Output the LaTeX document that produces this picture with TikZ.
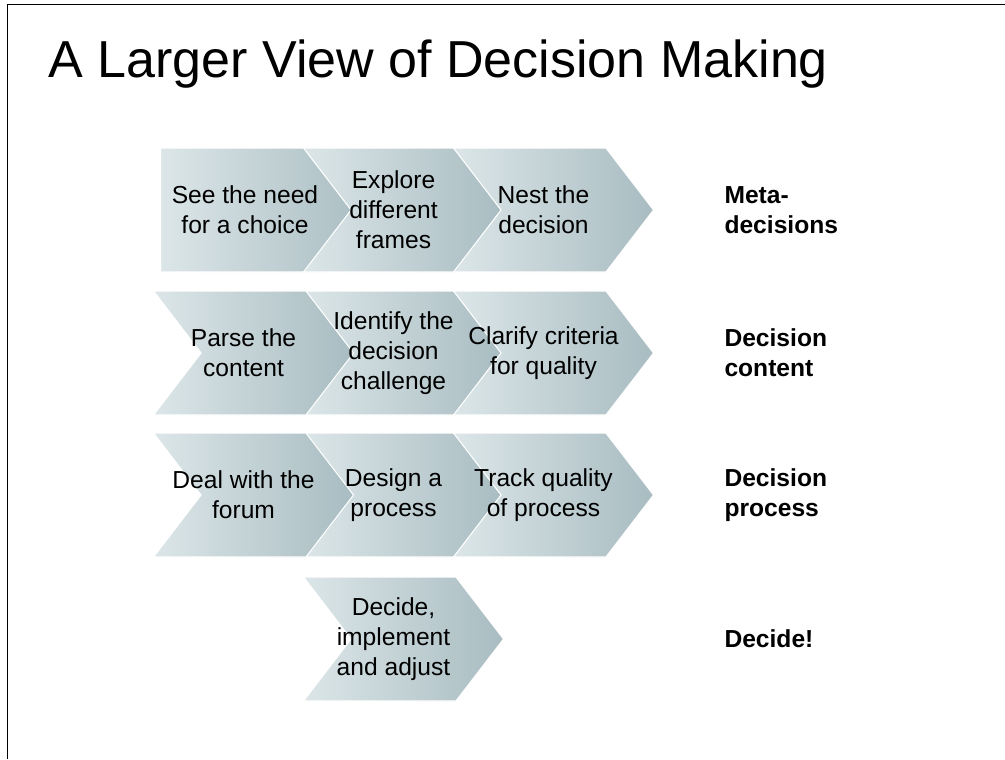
\documentclass[tikz,border=0pt]{standalone}
\usepackage{fontspec}
\setmainfont{Liberation Sans}
\usetikzlibrary{shapes.symbols,positioning}
\definecolor{chevlight}{RGB}{220,230,232}
\definecolor{chevdark}{RGB}{168,188,193}
\tikzstyle{chev} = [signal, signal to=east, signal from=west, signal pointer angle=105,
    minimum width=4cm, minimum height=2.48cm, inner sep=0pt,
    left color=chevlight, right color=chevdark, draw=white, line width=0.6pt]
\tikzstyle{first} = [chev, signal from=nowhere, minimum width=4.24cm]
\tikzstyle{chevtext} = [align=center, xshift=-0.2cm, font=\fontsize{14}{17}\selectfont]
\tikzstyle{tag} = [align=left, inner sep=0pt, font=\fontsize{14}{17}\selectfont\bfseries]

\begin{document}
\begin{tikzpicture}
		\useasboundingbox (0,0) rectangle (20.1,-15.18);
		% Frame and title
		\draw [line width=0.9pt] (0.146,-15.18) -- (0.146,-0.094) -- (20.1,-0.094);
		\node [anchor=base west, inner sep=0pt, font=\fontsize{29.6}{35}\selectfont] (title) at (0.96,-1.54) {A Larger View of Decision Making};
		% Draw chevrons
		\node [first, anchor=west] (c11) at (3.2,-4.2) {};
		\node [chev] (c12) at (8.07,-4.2) {};
		\node [chev, right of=c12, node distance=3cm] (c13) {};
		\node [chev, below of=c12, node distance=2.86cm] (c22) {};
		\node [chev, left of=c22, node distance=3cm] (c21) {};
		\node [chev, right of=c22, node distance=3cm] (c23) {};
		\node [chev, below of=c22, node distance=2.84cm] (c32) {};
		\node [chev, left of=c32, node distance=3cm] (c31) {};
		\node [chev, right of=c32, node distance=3cm] (c33) {};
		\node [chev, below of=c32, node distance=2.88cm] (c42) {};
		% Chevron texts
		\node [chevtext] (s11) at (5.1,-4.2) {See the need\\for a choice};
		\node [chevtext] (s12) at (c12) {Explore\\different\\frames};
		\node [chevtext] (s13) at (c13) {Nest the\\decision};
		\node [chevtext] (s21) at (c21) {Parse the\\content};
		\node [chevtext] (s22) at (c22) {Identify the\\decision\\challenge};
		\node [chevtext] (s23) at (c23) {Clarify criteria\\for quality};
		\node [chevtext] (s31) at (c31) {Deal with the\\forum};
		\node [chevtext] (s32) at (c32) {Design a\\process};
		\node [chevtext] (s33) at (c33) {Track quality\\of process};
		\node [chevtext] (s42) at (c42) {Decide,\\implement\\and adjust};
		% Row tags
		\node [tag, right=1.4cm of c13] (t1) {Meta-\\decisions};
		\node [tag, right=1.4cm of c23] (t2) {Decision\\content};
		\node [tag, right=1.4cm of c33] (t3) {Decision\\process};
		\node [tag, anchor=west] (t4) at (t3.west |- c42) {Decide!};
	\end{tikzpicture}
\end{document}
